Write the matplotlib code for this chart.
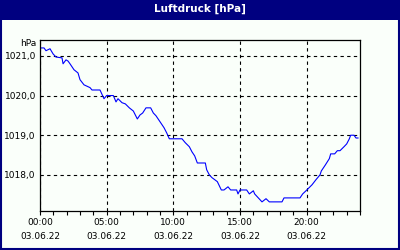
import matplotlib
matplotlib.use('Agg')
import matplotlib.pyplot as plt
from matplotlib.patches import Rectangle
from matplotlib.ticker import MultipleLocator

# hours since 00:00 and pressure in hPa
hours = [0.0, 0.3, 0.45, 0.75, 0.98, 1.2, 1.65, 1.73, 1.95, 2.1, 2.25, 2.55, 2.85, 3.0,
         3.3, 3.75, 3.9, 4.5, 4.8, 5.0, 5.5, 5.7, 5.85, 6.15, 6.4, 6.7, 7.0, 7.15, 7.3,
         7.5, 7.7, 7.95, 8.3, 8.5, 8.7, 9.0, 9.3, 9.5, 9.7, 10.65, 10.9, 11.2, 11.4,
         11.6, 11.8, 12.4, 12.5, 12.7, 12.9, 13.3, 13.6, 13.8, 14.1, 14.3, 14.75, 14.85,
         15.0, 15.5, 15.7, 16.0, 16.1, 16.65, 16.95, 17.2, 18.15, 18.3, 19.5, 19.7, 19.95,
         20.1, 20.4, 20.7, 21.0, 21.1, 21.4, 21.7, 21.8, 22.1, 22.3, 22.5, 22.8, 23.0,
         23.2, 23.3, 23.55, 23.7, 23.85]
druck = [1021.20, 1021.20, 1021.13, 1021.18, 1021.05, 1020.97, 1020.95, 1020.80, 1020.90,
         1020.87, 1020.80, 1020.65, 1020.57, 1020.40, 1020.27, 1020.20, 1020.14, 1020.14,
         1019.92, 1020.00, 1020.00, 1019.84, 1019.92, 1019.82, 1019.79, 1019.69, 1019.61,
         1019.51, 1019.41, 1019.51, 1019.56, 1019.69, 1019.69, 1019.56, 1019.49, 1019.34,
         1019.19, 1019.06, 1018.91, 1018.91, 1018.81, 1018.71, 1018.58, 1018.48, 1018.30,
         1018.30, 1018.13, 1018.00, 1017.93, 1017.83, 1017.62, 1017.62, 1017.70, 1017.62,
         1017.62, 1017.52, 1017.62, 1017.62, 1017.52, 1017.60, 1017.52, 1017.32, 1017.40,
         1017.32, 1017.32, 1017.42, 1017.42, 1017.52, 1017.60, 1017.65, 1017.75, 1017.88,
         1018.00, 1018.10, 1018.25, 1018.41, 1018.53, 1018.53, 1018.61, 1018.61, 1018.71,
         1018.78, 1018.91, 1019.00, 1019.00, 1018.93, 1018.93]

x_ticks = [0, 5, 10, 15, 20]
x_labels = ['00:00\n03.06.22', '05:00\n03.06.22', '10:00\n03.06.22',
            '15:00\n03.06.22', '20:00\n03.06.22']
y_ticks = [1018, 1019, 1020, 1021]
y_labels = ['1018,0', '1019,0', '1020,0', '1021,0']

navy = '#000080'
bg = '#FAFFFA'

fig = plt.figure(figsize=(4, 2.5), dpi=100, facecolor=bg)

# title bar and frame
fig.patches.append(Rectangle((0, 0.92), 1, 0.08, transform=fig.transFigure,
                             facecolor=navy, edgecolor='none', zorder=0))
fig.patches.append(Rectangle((0.002, 0.004), 0.995, 0.994, transform=fig.transFigure,
                             facecolor='none', edgecolor=navy, linewidth=1.5, zorder=1))
fig.text(0.5, 0.966, 'Luftdruck [hPa]', color='white', fontsize=7.5, fontweight='bold',
         ha='center', va='center')

ax = fig.add_axes([0.1, 0.156, 0.8, 0.684], facecolor=bg)
ax.plot(hours, druck, color='#0000FF', linewidth=0.8)

ax.set_xlim(0, 24)
ax.set_ylim(1017.09, 1021.40)
ax.set_xticks(x_ticks)
ax.set_xticklabels(x_labels, fontsize=6.5, linespacing=1.7)
ax.xaxis.set_minor_locator(MultipleLocator(1))
ax.set_yticks(y_ticks)
ax.set_yticklabels(y_labels, fontsize=6.5)

ax.tick_params(axis='x', which='both', length=3, width=0.8, direction='out', pad=2)
ax.tick_params(axis='y', length=0, pad=3)
ax.grid(True, color='black', linestyle=(0, (3, 3)), linewidth=0.8)
for s in ax.spines.values():
    s.set_linewidth(0.9)

fig.text(0.092, 0.824, 'hPa', fontsize=6.5, ha='right', va='center')

fig.savefig('out.png', dpi=100, facecolor=bg)
